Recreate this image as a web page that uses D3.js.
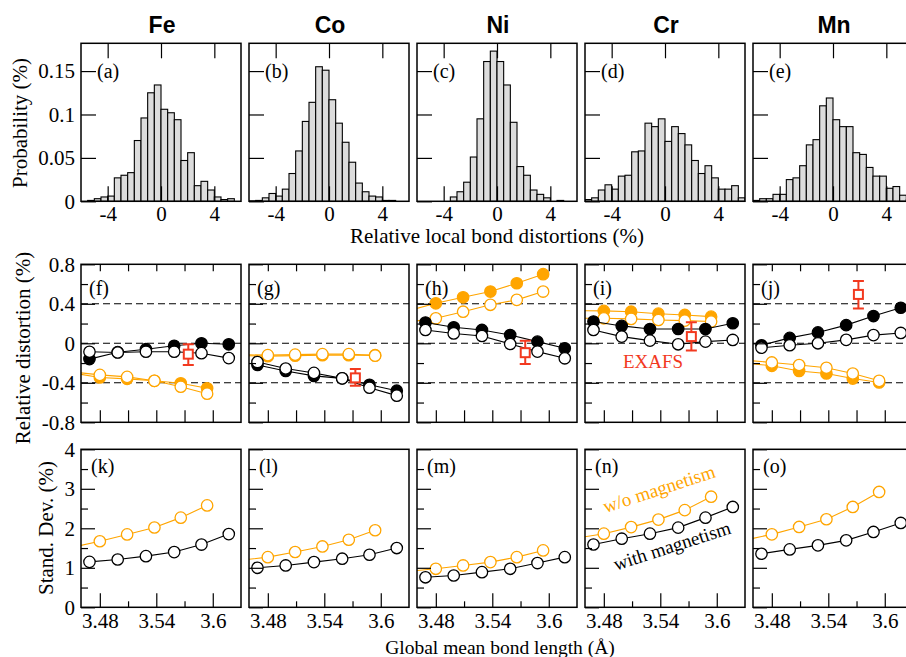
<!DOCTYPE html>
<html>
<head>
<meta charset="utf-8">
<script src="https://cdn.jsdelivr.net/npm/d3@7"></script>
<style>
body { margin: 0; background: #fff; }
text { font-family: "Liberation Serif", "Times New Roman", serif; }
</style>
</head>
<body>
<div id="chart"></div>
<script>
// ---- data ----
var elements = ["Fe", "Co", "Ni", "Cr", "Mn"];
var panelLetters = [
    ["(a)", "(b)", "(c)", "(d)", "(e)"],
    ["(f)", "(g)", "(h)", "(i)", "(j)"],
    ["(k)", "(l)", "(m)", "(n)", "(o)"]
];

// histogram bins (left edges, width 0.5 %)
var histBins = [-6, -5.5, -5, -4.5, -4, -3.5, -3, -2.5, -2, -1.5, -1, -0.5,
                0, 0.5, 1, 1.5, 2, 2.5, 3, 3.5, 4, 4.5, 5, 5.5];
var histProb = [
    [0, 0.001, 0.003, 0.005, 0.006, 0.027, 0.030, 0.033, 0.070, 0.096, 0.125, 0.134,
     0.106, 0.102, 0.094, 0.047, 0.056, 0.018, 0.023, 0.013, 0.005, 0.002, 0.003, 0],
    [0.0005, 0.001, 0.004, 0.009, 0.006, 0.014, 0.032, 0.058, 0.092, 0.114, 0.155, 0.151,
     0.117, 0.090, 0.068, 0.045, 0.021, 0.011, 0.006, 0.005, 0.001, 0.001, 0, 0],
    [0, 0, 0, 0, 0, 0.005, 0.011, 0.022, 0.051, 0.095, 0.161, 0.173,
     0.161, 0.134, 0.091, 0.040, 0.030, 0.013, 0.008, 0.004, 0, 0.001, 0, 0],
    [0.002, 0.004, 0.013, 0.019, 0.014, 0.029, 0.030, 0.057, 0.058, 0.090, 0.086, 0.095,
     0.069, 0.086, 0.078, 0.065, 0.047, 0.032, 0.041, 0.027, 0.014, 0.014, 0.018, 0.004],
    [0.001, 0.003, 0.003, 0.008, 0.008, 0.025, 0.027, 0.041, 0.065, 0.071, 0.110, 0.119,
     0.094, 0.086, 0.086, 0.056, 0.054, 0.039, 0.029, 0.029, 0.015, 0.017, 0.007, 0.002]
];

// global mean bond lengths (A) of the points
var lenMag = [3.469, 3.499, 3.529, 3.559, 3.588, 3.617];
var lenNoMag = [3.451, 3.480, 3.509, 3.538, 3.566, 3.594];

// relative distortion (%) : black = with magnetism, orange = w/o magnetism
var distMagFilled = [
    [-0.16, -0.09, -0.06, -0.025, 0.0, -0.01],
    [-0.22, -0.28, -0.33, -0.355, -0.42, -0.48],
    [0.21, 0.162, 0.135, 0.084, 0.017, -0.05],
    [0.22, 0.176, 0.145, 0.145, 0.145, 0.203],
    [-0.02, 0.055, 0.11, 0.184, 0.276, 0.36]
];
var distMagOpen = [
    [-0.086, -0.093, -0.085, -0.085, -0.10, -0.15],
    [-0.19, -0.255, -0.30, -0.355, -0.45, -0.53],
    [0.135, 0.10, 0.074, -0.007, -0.084, -0.152],
    [0.135, 0.068, 0.027, -0.01, 0.017, 0.034],
    [-0.045, -0.02, 0.0, 0.035, 0.083, 0.105]
];
var distNoMagFilled = [
    [-0.30, -0.346, -0.36, -0.38, -0.405, -0.455],
    [-0.125, -0.13, -0.125, -0.12, -0.12, -0.12],
    [0.33, 0.405, 0.466, 0.524, 0.608, 0.70],
    [0.33, 0.328, 0.32, 0.30, 0.287, 0.27],
    [-0.20, -0.228, -0.28, -0.306, -0.357, -0.397]
];
var distNoMagOpen = [
    [-0.29, -0.32, -0.34, -0.38, -0.44, -0.51],
    [-0.115, -0.12, -0.115, -0.11, -0.11, -0.125],
    [0.215, 0.253, 0.32, 0.39, 0.44, 0.524],
    [0.255, 0.253, 0.247, 0.236, 0.23, 0.22],
    [-0.17, -0.194, -0.22, -0.248, -0.306, -0.38]
];

// EXAFS reference values
var exafsLen = [3.574, 3.573, 3.575, 3.573, 3.572];
var exafsVal = [-0.11, -0.35, -0.095, 0.068, 0.495];
var exafsLow = [-0.22, -0.43, -0.21, -0.074, 0.353];
var exafsHigh = [-0.01, -0.26, 0.027, 0.213, 0.63];

// standard deviation (%)
var sdMag = [
    [1.15, 1.21, 1.295, 1.398, 1.588, 1.853],
    [1.0, 1.06, 1.144, 1.23, 1.33, 1.5],
    [0.76, 0.805, 0.89, 0.975, 1.12, 1.27],
    [1.59, 1.737, 1.864, 2.017, 2.27, 2.54],
    [1.356, 1.466, 1.568, 1.695, 1.907, 2.136]
];
var sdNoMag = [
    [1.52, 1.672, 1.845, 2.02, 2.27, 2.58],
    [1.19, 1.27, 1.40, 1.54, 1.71, 1.95],
    [0.91, 0.975, 1.06, 1.144, 1.27, 1.44],
    [1.75, 1.864, 2.03, 2.22, 2.46, 2.80],
    [1.70, 1.847, 2.034, 2.229, 2.54, 2.92]
];

// tick values / labels
var histTicksX = [-4, 0, 4];
var histTicksY = [0, 0.05, 0.1, 0.15];
var histLabelsY = ["0", "0.05", "0.1", "0.15"];
var distTicksY = [-0.8, -0.4, 0, 0.4, 0.8];
var distLabelsY = ["-0.8", "-0.4", "0", "0.4", "0.8"];
var distMinorY = [-0.6, -0.2, 0.2, 0.6];
var dashLevels = [-0.4, 0, 0.4];
var lenTicks = [3.48, 3.51, 3.54, 3.57, 3.6];
var lenMajor = [3.48, 3.54, 3.6];
var lenLabels = ["3.48", "3.54", "3.6"];
var lenMinor = [3.51, 3.57];
var sdTicksY = [0, 1, 2, 3, 4];
var sdMinorY = [0.5, 1.5, 2.5, 3.5];

// ---- layout ----
var svgW = 906, svgH = 657;
var colX = [81, 249, 417, 585, 753];
var rowY = [43.3, 264.3, 449.3];
var W = 160, H = 158;
var orange = "#ffa500";
var red = "#f2391f";
var tickFont = 21;

var svg = d3.select("#chart").append("svg")
    .attr("width", svgW)
    .attr("height", svgH)
    .style("display", "block");

var defs = svg.append("defs");

var xHist = d3.scaleLinear().domain([-6, 6]).range([0, W]);
var yHist = d3.scaleLinear().domain([0, 0.182]).range([H, 0]);
var xLen = d3.scaleLinear().domain([3.46, 3.63]).range([0, W]);
var yDist = d3.scaleLinear().domain([-0.8, 0.8]).range([H, 0]);
var ySd = d3.scaleLinear().domain([0, 4]).range([H, 0]);

function makePanel(row, col) {
    var id = "clip" + row + "_" + col;
    defs.append("clipPath").attr("id", id)
        .append("rect").attr("width", W).attr("height", H);
    var g = svg.append("g")
        .attr("transform", "translate(" + colX[col] + "," + rowY[row] + ")");
    var plot = g.append("g").attr("clip-path", "url(#" + id + ")");
    return {g: g, plot: plot};
}

function styleAxis(sel, fontSize) {
    sel.select(".domain").remove();
    sel.selectAll("line").attr("stroke", "#000").attr("stroke-width", 1.2);
    sel.selectAll("text")
        .attr("fill", "#000")
        .style("font-family", '"Liberation Serif", serif')
        .style("font-size", fontSize + "px");
}

function addAxis(g, axis, tx, ty) {
    var a = g.append("g").attr("transform", "translate(" + tx + "," + ty + ")").call(axis);
    styleAxis(a, tickFont);
    return a;
}

function frame(g) {
    g.append("rect")
        .attr("width", W).attr("height", H)
        .attr("fill", "none")
        .attr("stroke", "#000")
        .attr("stroke-width", 1.5);
}

function letter(g, row, col, dx, dy) {
    g.append("text")
        .attr("x", dx).attr("y", dy)
        .style("font-size", "20px")
        .text(panelLetters[row][col]);
}

function series(plot, xs, vals, yScale, color, filled) {
    var line = d3.line()
        .x(function (d, k) { return xLen(xs[k]); })
        .y(function (d) { return yScale(d); });
    plot.append("path")
        .datum(vals)
        .attr("d", line)
        .attr("fill", "none")
        .attr("stroke", color)
        .attr("stroke-width", 1.1);
    plot.selectAll(null)
        .data(vals)
        .enter()
        .append("circle")
        .attr("cx", function (d, k) { return xLen(xs[k]); })
        .attr("cy", function (d) { return yScale(d); })
        .attr("r", 5.7)
        .attr("fill", filled ? color : "#fff")
        .attr("stroke", color)
        .attr("stroke-width", 1.3);
}

// ---- column titles ----
elements.forEach(function (el, i) {
    svg.append("text")
        .attr("x", colX[i] + W / 2 + 1)
        .attr("y", 33)
        .attr("text-anchor", "middle")
        .style("font-family", '"Liberation Sans", Arial, sans-serif')
        .style("font-weight", "bold")
        .style("font-size", "23px")
        .text(el);
});

// ---- row 1: histograms ----
elements.forEach(function (el, i) {
    var p = makePanel(0, i);
    p.plot.selectAll("rect")
        .data(histProb[i])
        .enter()
        .append("rect")
        .attr("x", function (d, k) { return xHist(histBins[k]); })
        .attr("width", function (d, k) { return xHist(histBins[k] + 0.5) - xHist(histBins[k]); })
        .attr("y", function (d) { return yHist(d); })
        .attr("height", function (d) { return H - yHist(d); })
        .attr("fill", "#dcdcdc")
        .attr("stroke", "#000")
        .attr("stroke-width", 1.1);

    addAxis(p.g, d3.axisLeft(yHist).tickValues(histTicksY).tickSize(-15).tickPadding(6)
        .tickFormat(function (d, k) { return i === 0 ? histLabelsY[k] : ""; }), 0, 0);
    addAxis(p.g, d3.axisTop(xHist).tickValues(histTicksX).tickSize(-15).tickFormat(""), 0, 0);
    addAxis(p.g, d3.axisBottom(xHist).tickValues(histTicksX).tickSize(-15).tickPadding(5)
        .tickFormat(function (d) { return d < 0 ? "-" + Math.abs(d) : d; }), 0, H);
    frame(p.g);
    letter(p.g, 0, i, 16, 35);
});

// ---- row 2: relative distortion ----
elements.forEach(function (el, i) {
    var p = makePanel(1, i);
    p.plot.selectAll("line.dash")
        .data(dashLevels)
        .enter()
        .append("line")
        .attr("x1", 0).attr("x2", W)
        .attr("y1", function (d) { return yDist(d); })
        .attr("y2", function (d) { return yDist(d); })
        .attr("stroke", "#000")
        .attr("stroke-width", 1.1)
        .attr("stroke-dasharray", "7,4");

    series(p.plot, lenNoMag, distNoMagFilled[i], yDist, orange, true);
    series(p.plot, lenNoMag, distNoMagOpen[i], yDist, orange, false);
    series(p.plot, lenMag, distMagFilled[i], yDist, "#000", true);
    series(p.plot, lenMag, distMagOpen[i], yDist, "#000", false);

    // EXAFS point with error bar
    var ex = p.plot.append("g").attr("stroke", red).attr("stroke-width", 2).attr("fill", "none");
    var cx = xLen(exafsLen[i]);
    ex.append("line").attr("x1", cx).attr("x2", cx)
        .attr("y1", yDist(exafsLow[i])).attr("y2", yDist(exafsHigh[i]));
    [exafsLow[i], exafsHigh[i]].forEach(function (v) {
        ex.append("line").attr("x1", cx - 5.5).attr("x2", cx + 5.5)
            .attr("y1", yDist(v)).attr("y2", yDist(v));
    });
    ex.append("rect")
        .attr("x", cx - 4.5).attr("y", yDist(exafsVal[i]) - 4.5)
        .attr("width", 9).attr("height", 9)
        .attr("fill", "#fff");

    addAxis(p.g, d3.axisLeft(yDist).tickValues(distTicksY).tickSize(-14).tickPadding(6)
        .tickFormat(function (d, k) { return i === 0 ? distLabelsY[k] : ""; }), 0, 0);
    addAxis(p.g, d3.axisLeft(yDist).tickValues(distMinorY).tickSize(-7).tickFormat(""), 0, 0);
    addAxis(p.g, d3.axisTop(xLen).tickValues(lenTicks).tickSize(-7).tickFormat(""), 0, 0);
    addAxis(p.g, d3.axisBottom(xLen).tickValues(lenTicks).tickSize(-12).tickFormat(""), 0, H);
    frame(p.g);
    letter(p.g, 1, i, 8, 31);
});

svg.append("text")
    .attr("x", colX[3] + 68).attr("y", 368)
    .attr("text-anchor", "middle")
    .attr("fill", red)
    .style("font-size", "19px")
    .text("EXAFS");

// ---- row 3: standard deviation ----
elements.forEach(function (el, i) {
    var p = makePanel(2, i);
    series(p.plot, lenNoMag, sdNoMag[i], ySd, orange, false);
    series(p.plot, lenMag, sdMag[i], ySd, "#000", false);

    addAxis(p.g, d3.axisLeft(ySd).tickValues(sdTicksY).tickSize(-14).tickPadding(6)
        .tickFormat(function (d) { return i === 0 ? d : ""; }), 0, 0);
    addAxis(p.g, d3.axisLeft(ySd).tickValues(sdMinorY).tickSize(-7).tickFormat(""), 0, 0);
    addAxis(p.g, d3.axisBottom(xLen).tickValues(lenMajor).tickSize(-14).tickPadding(6)
        .tickFormat(function (d, k) { return lenLabels[k]; }), 0, H);
    addAxis(p.g, d3.axisBottom(xLen).tickValues(lenMinor).tickSize(-6).tickFormat(""), 0, H);
    frame(p.g);
    letter(p.g, 2, i, 10, 24);
});

svg.append("text")
    .attr("transform", "translate(661,495) rotate(-18)")
    .attr("text-anchor", "middle")
    .attr("fill", orange)
    .style("font-size", "19px")
    .text("w/o magnetism");

svg.append("text")
    .attr("transform", "translate(674,552) rotate(-18)")
    .attr("text-anchor", "middle")
    .attr("fill", "#000")
    .style("font-size", "19px")
    .text("with magnetism");

// ---- axis titles ----
function yTitle(x, y, txt) {
    svg.append("text")
        .attr("transform", "translate(" + x + "," + y + ") rotate(-90)")
        .attr("text-anchor", "middle")
        .style("font-size", "21px")
        .text(txt);
}
yTitle(27, 123, "Probability (%)");
yTitle(30, 348, "Relative distortion (%)");
yTitle(53, 528, "Stand. Dev. (%)");

svg.append("text")
    .attr("x", 497).attr("y", 243)
    .attr("text-anchor", "middle")
    .style("font-size", "21px")
    .text("Relative local bond distortions (%)");

svg.append("text")
    .attr("x", 500).attr("y", 654)
    .attr("text-anchor", "middle")
    .style("font-size", "19.5px")
    .text("Global mean bond length (Å)");
</script>
</body>
</html>
